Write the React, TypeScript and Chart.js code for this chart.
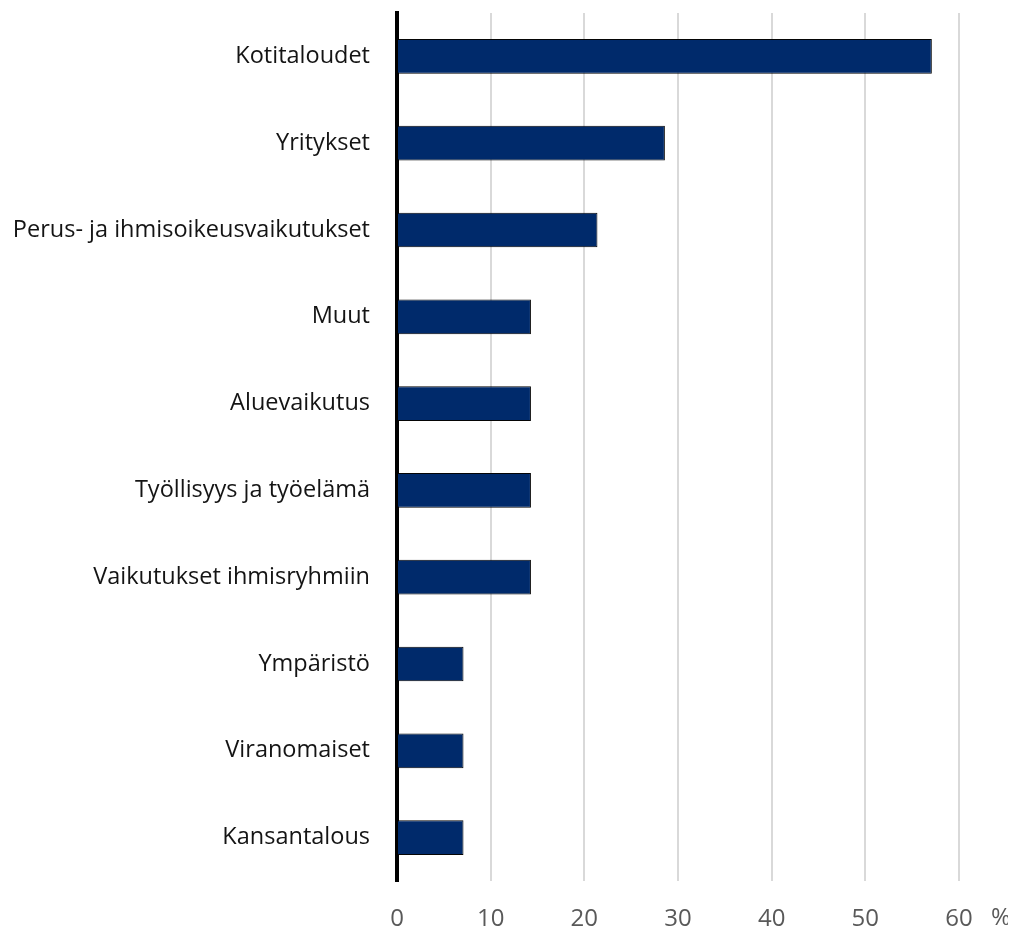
import React, { useEffect, useRef } from "react";
import { Chart, registerables } from "chart.js";

Chart.register(...registerables);

const categories = [
  "Kotitaloudet",
  "Yritykset",
  "Perus- ja ihmisoikeusvaikutukset",
  "Muut",
  "Aluevaikutus",
  "Työllisyys ja työelämä",
  "Vaikutukset ihmisryhmiin",
  "Ympäristö",
  "Viranomaiset",
  "Kansantalous",
];
const values = [57.1, 28.6, 21.4, 14.3, 14.3, 14.3, 14.3, 7.1, 7.1, 7.1];
const xTicks = [0, 10, 20, 30, 40, 50, 60];
const unitLabel = "%";

const FONT = "'Open Sans', sans-serif";

export default function App() {
  const ref = useRef<HTMLCanvasElement>(null);
  useEffect(() => {
    if (!ref.current) return;
    const unitPlugin = {
      id: "unitLabel",
      afterDraw(chart: any) {
        const { ctx, chartArea } = chart;
        ctx.save();
        ctx.font = `24px ${FONT}`;
        ctx.fillStyle = "#595959";
        ctx.textAlign = "center";
        ctx.textBaseline = "middle";
        ctx.fillText(unitLabel, chartArea.right + 42, 910);
        ctx.restore();
      },
    };
    const chart = new Chart(ref.current, {
      type: "bar",
      data: {
        labels: categories,
        datasets: [
          {
            data: values,
            backgroundColor: "#002A6B",
            borderColor: "#050505",
            borderWidth: 1,
            categoryPercentage: 0.8,
            barPercentage: 0.5,
          },
        ],
      },
      options: {
        indexAxis: "y",
        animation: false,
        responsive: false,
        layout: { padding: { top: 5, right: 49, left: 0, bottom: 0 } },
        plugins: {
          legend: { display: false },
          tooltip: { enabled: false },
        },
        scales: {
          x: {
            min: 0,
            max: 60,
            afterBuildTicks(scale: any) {
              scale.ticks = xTicks.map((v) => ({ value: v }));
            },
            afterFit(scale: any) {
              scale.height = 48;
              scale.paddingLeft = 0;
              scale.paddingRight = 0;
            },
            grid: { color: "#d9d9d9", lineWidth: 2, drawTicks: false },
            border: { display: false },
            ticks: {
              color: "#595959",
              font: { family: FONT, size: 24 },
              padding: 24,
              maxRotation: 0,
            },
          },
          y: {
            afterFit(scale: any) {
              scale.width = 389;
              scale.paddingTop = 0;
              scale.paddingBottom = 0;
            },
            grid: { display: false, drawTicks: false },
            border: { display: true, color: "#000000", width: 4 },
            ticks: {
              color: "#141414",
              font: { family: FONT, size: 23.5 },
              padding: 27,
            },
          },
        },
      },
      plugins: [unitPlugin],
    });
    return () => chart.destroy();
  }, []);
  return (
    <div style={{ width: 1000, height: 921 }}>
      <canvas ref={ref} width={1000} height={921} style={{ display: "block" }} />
    </div>
  );
}
